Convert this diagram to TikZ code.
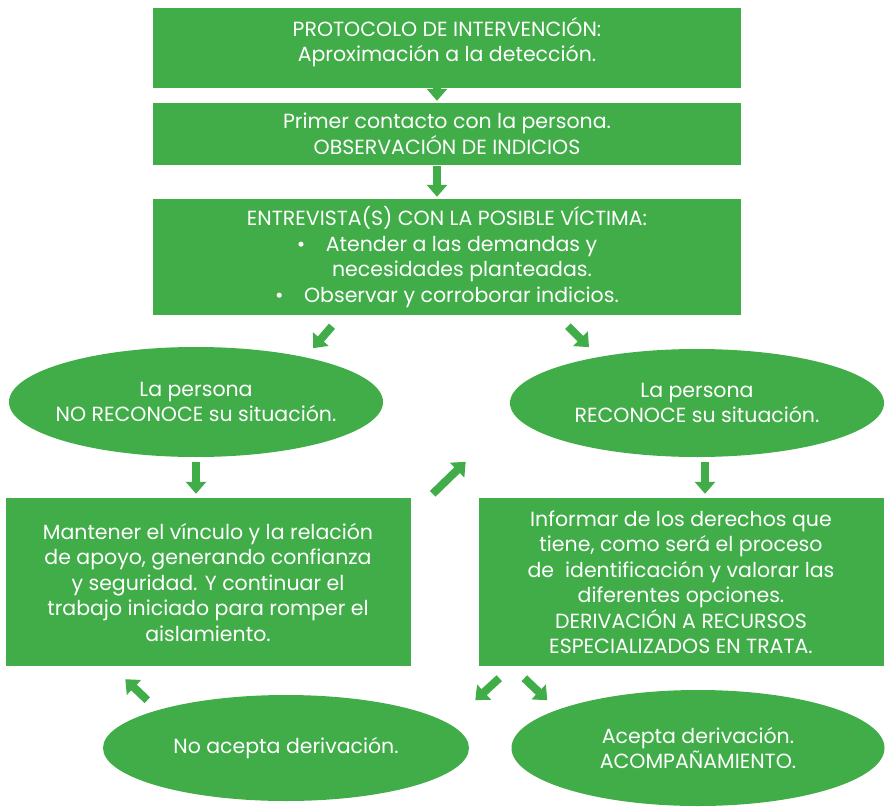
\documentclass[tikz,border=0pt]{standalone}
\usepackage{fontspec}
\setmainfont{Poppins}
\usetikzlibrary{arrows.meta,calc,shapes.geometric}
\definecolor{verde}{HTML}{41AD49}

\begin{document}
\begin{tikzpicture}[x=1pt,y=-1pt,
  caja/.style={fill=verde,text=white,align=center,inner sep=0pt},
  elipse/.style={ellipse,fill=verde,text=white,align=center,inner sep=-25pt},
  blk/.style={verde,line width=8pt,-{Triangle[length=12pt,width=20pt]}},
  font=\fontsize{20.5}{25.5}\selectfont]
\useasboundingbox (0,0) rectangle (886,808);
% cajas
\node[caja,minimum width=588pt,minimum height=80pt,text depth=17pt] (prot) at (447,48) {PROTOCOLO DE INTERVENCIÓN:\\Aproximación a la detección.};
\node[caja,minimum width=588pt,minimum height=62pt] (cont) at (447,134) {Primer contacto con la persona.\\OBSERVACIÓN DE INDICIOS};
\node[caja,minimum width=588pt,minimum height=116pt] (entr) at (447,257) {ENTREVISTA(S) CON LA POSIBLE VÍCTIMA:\\
  •\quad Atender a las demandas y\\\hspace*{30pt}necesidades planteadas.\\•\quad Observar y corroborar indicios.};
\node[elipse,minimum width=374pt,minimum height=110pt] (noreco) at (196,402) {La persona\\NO RECONOCE su situación.};
\node[elipse,minimum width=374pt,minimum height=108pt] (reco) at (697,403) {La persona\\RECONOCE su situación.};
\node[caja,minimum width=405pt,minimum height=168pt] (mant) at (208,582) {Mantener el vínculo y la relación\\de apoyo, generando confianza\\y seguridad. Y continuar el\\trabajo iniciado para romper el\\aislamiento.};
\node[caja,minimum width=405pt,minimum height=168pt] (info) at (681,582) {Informar de los derechos que\\tiene, como será el proceso\\de \ identificación y valorar las\\diferentes opciones.\\DERIVACIÓN A RECURSOS\\ESPECIALIZADOS EN TRATA.};
\node[elipse,minimum width=366pt,minimum height=106pt] (noacep) at (286,748) {No acepta derivación.};
\node[elipse,minimum width=373pt,minimum height=116pt] (acep) at (698,748) {Acepta derivación.\\ACOMPAÑAMIENTO.};
% flechas
\draw[blk] ($(prot.south)+(-10,0)$) -- ($(cont.north)+(-10,-2)$);
\draw[blk] ($(cont.south)+(-10,1)$) -- ($(entr.north)+(-10,-2)$);
\draw[blk] ($(entr.south)+(-115,11)$) -- ++(-19,22);
\draw[blk] ($(entr.south)+(121,11)$) -- ++(21,21);
\draw[blk] ($(noreco.south)+(0,5)$) -- ($(mant.north)+(-12,-4)$);
\draw[blk] ($(reco.south)+(8,5)$) -- ($(info.north)+(24,-4)$);
\draw[blk] ($(mant.north east)+(22,-4)$) -- ++(33,-32);
\draw[blk] ($(info.south west)+(21,12)$) -- ++(-24,22);
\draw[blk] ($(info.south west)+(46,12)$) -- ++(23,22);
\draw[blk] ($(mant.south west)+(142,34)$) -- ++(-22,-21);
\end{tikzpicture}
\end{document}
